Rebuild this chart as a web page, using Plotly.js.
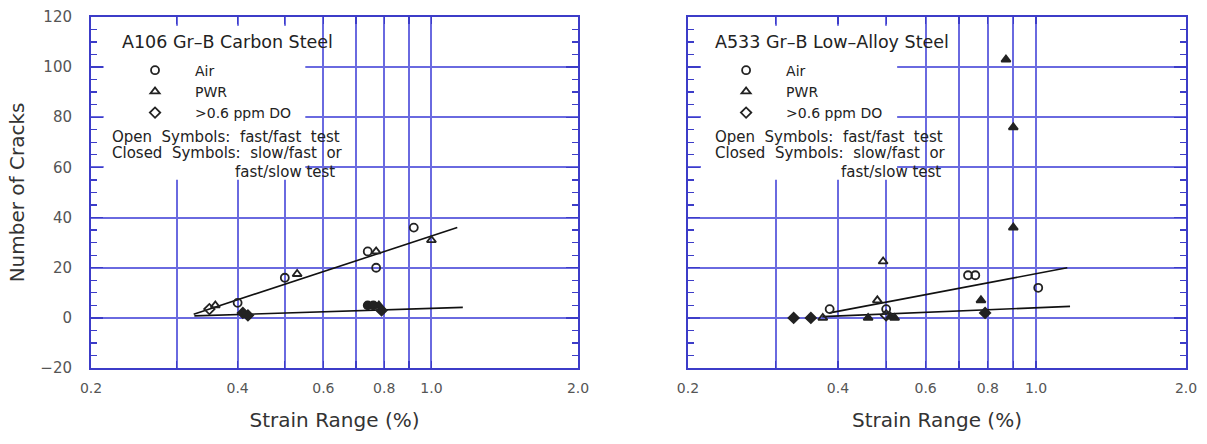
<!DOCTYPE html>
<html>
<head>
<meta charset="utf-8">
<script src="https://cdn.plot.ly/plotly-3.0.1.min.js"></script>
<style>body{margin:0;background:#fff}#chart{width:1207px;height:444px}</style>
</head>
<body>
<div id="chart"></div>
<script>
// ---------- data: A106 Gr-B Carbon Steel (left) ----------
const cs_airOpenX = [0.40, 0.50, 0.74, 0.77, 0.92];
const cs_airOpenY = [6, 16, 26.5, 20, 36];
const cs_pwrOpenX = [0.36, 0.53, 0.77, 1.0];
const cs_pwrOpenY = [5, 17.5, 26.5, 31];
const cs_doOpenX = [0.35];
const cs_doOpenY = [3.5];
const cs_airClosedX = [0.74, 0.76];
const cs_airClosedY = [5, 5];
const cs_pwrClosedX = [0.78];
const cs_pwrClosedY = [5];
const cs_doClosedX = [0.41, 0.42, 0.79];
const cs_doClosedY = [2, 1, 3];
const cs_fitOpenX = [0.325, 1.13];
const cs_fitOpenY = [1.5, 36];
const cs_fitClosedX = [0.326, 1.16];
const cs_fitClosedY = [0.8, 4.2];

// ---------- data: A533 Gr-B Low-Alloy Steel (right) ----------
const las_airOpenX = [0.385, 0.50, 0.73, 0.755, 1.01];
const las_airOpenY = [3.5, 3.5, 17, 17, 12];
const las_pwrOpenX = [0.373, 0.48, 0.493];
const las_pwrOpenY = [0, 7, 22.5];
const las_doOpenX = [0.50];
const las_doOpenY = [1];
const las_pwrClosedX = [0.46, 0.51, 0.52, 0.775, 0.87, 0.90, 0.90];
const las_pwrClosedY = [0, 0.5, 0, 7, 103, 76, 36];
const las_doClosedX = [0.326, 0.353, 0.79];
const las_doClosedY = [0, 0, 2];
const las_fitOpenX = [0.385, 1.155];
const las_fitOpenY = [2, 20];
const las_fitClosedX = [0.372, 1.17];
const las_fitClosedY = [0.5, 4.6];

// ---------- axis labels ----------
const xTickVals = [0.2, 0.3, 0.4, 0.5, 0.6, 0.7, 0.8, 0.9, 1.0, 2.0];
const xTickText = ['0.2', '', '0.4', '', '0.6', '', '0.8', '', '1.0', '2.0'];
const yTickVals = [-20, 0, 20, 40, 60, 80, 100, 120];
const seriesNames = ['Air', 'PWR', '>0.6 ppm DO'];
const panelTitles = ['A106 Gr\u2013B Carbon Steel', 'A533 Gr\u2013B Low\u2013Alloy Steel'];
const noteLines = ['Open  Symbols:  fast/fast  test', 'Closed  Symbols:  slow/fast  or', 'fast/slow test'];

const FONT = 'DejaVu Sans, Liberation Sans, Arial, sans-serif';
const BLUE_AX = '#3c3cc8';
const BLUE_GRID = '#6a6ae0';
const INK = '#222';

function mk(x, y, sym, xa, ya, name, legend, show) {
  return {
    type: 'scatter', mode: 'markers', x: x, y: y, xaxis: xa, yaxis: ya,
    name: name, legend: legend, showlegend: !!show, cliponaxis: false,
    marker: {symbol: sym, size: 8, color: INK, line: {color: INK, width: 1.8}}
  };
}
function fit(x, y, xa, ya) {
  return {type: 'scatter', mode: 'lines', x: x, y: y, xaxis: xa, yaxis: ya,
    showlegend: false, line: {color: '#111', width: 1.6}, hoverinfo: 'skip'};
}

const traces = [
  fit(cs_fitOpenX, cs_fitOpenY, 'x', 'y'),
  fit(cs_fitClosedX, cs_fitClosedY, 'x', 'y'),
  mk(cs_airOpenX, cs_airOpenY, 'circle-open', 'x', 'y', seriesNames[0], 'legend', true),
  mk(cs_pwrOpenX, cs_pwrOpenY, 'triangle-up-open', 'x', 'y', seriesNames[1], 'legend', true),
  mk(cs_doOpenX, cs_doOpenY, 'diamond-open', 'x', 'y', seriesNames[2], 'legend', true),
  mk(cs_airClosedX, cs_airClosedY, 'circle', 'x', 'y', seriesNames[0], 'legend', false),
  mk(cs_pwrClosedX, cs_pwrClosedY, 'triangle-up', 'x', 'y', seriesNames[1], 'legend', false),
  mk(cs_doClosedX, cs_doClosedY, 'diamond', 'x', 'y', seriesNames[2], 'legend', false),

  fit(las_fitOpenX, las_fitOpenY, 'x2', 'y2'),
  fit(las_fitClosedX, las_fitClosedY, 'x2', 'y2'),
  mk(las_airOpenX, las_airOpenY, 'circle-open', 'x2', 'y2', seriesNames[0], 'legend2', true),
  mk(las_pwrOpenX, las_pwrOpenY, 'triangle-up-open', 'x2', 'y2', seriesNames[1], 'legend2', true),
  mk(las_doOpenX, las_doOpenY, 'diamond-open', 'x2', 'y2', seriesNames[2], 'legend2', true),
  mk(las_pwrClosedX, las_pwrClosedY, 'triangle-up', 'x2', 'y2', seriesNames[1], 'legend2', false),
  mk(las_doClosedX, las_doClosedY, 'diamond', 'x2', 'y2', seriesNames[2], 'legend2', false)
];

function xAxis(domain, anchor) {
  return {
    type: 'log', domain: domain, anchor: anchor,
    range: [Math.log10(0.2), Math.log10(2.0)],
    tickmode: 'array', tickvals: xTickVals, ticktext: xTickText,
    ticks: 'inside', ticklen: 7, tickwidth: 1.3, tickcolor: BLUE_AX,
    showgrid: true, gridcolor: BLUE_GRID, gridwidth: 2,
    showline: true, linecolor: BLUE_AX, linewidth: 2, mirror: 'ticks',
    zeroline: false, ticklabelstandoff: 6,
    tickfont: {family: FONT, size: 14, color: '#555'},
    title: {text: 'Strain Range (%)', font: {family: FONT, size: 20, color: '#333'}, standoff: 18}
  };
}
function yAxis(domain, anchor, labels) {
  const a = {
    domain: domain, anchor: anchor, range: [-20, 120],
    tickmode: 'array', tickvals: yTickVals,
    ticks: 'inside', ticklen: 12, tickwidth: 1.3, tickcolor: BLUE_AX,
    minor: {dtick: 5, tick0: 0, ticks: 'inside', ticklen: 6, tickcolor: BLUE_AX, tickwidth: 1.3, showgrid: false},
    showgrid: true, gridcolor: BLUE_GRID, gridwidth: 2,
    showline: true, linecolor: BLUE_AX, linewidth: 2, mirror: 'ticks',
    zeroline: false, showticklabels: labels, ticklabelstandoff: 14,
    tickfont: {family: FONT, size: 15, color: '#555'}
  };
  if (labels) a.title = {text: 'Number of Cracks', font: {family: FONT, size: 20, color: '#333'}, standoff: 10};
  return a;
}

const yDom = [0.171, 0.962];
function ann(xref, yref, x, y, text, anchor, size) {
  return {xref: xref, yref: yref, x: x, y: y, text: text, showarrow: false,
    xanchor: anchor, yanchor: 'middle', font: {family: FONT, size: size, color: INK}};
}
function box(xref, yref, x0, x1, y0, y1) {
  return {type: 'rect', xref: xref, yref: yref, x0: x0, x1: x1, y0: y0, y1: y1,
    fillcolor: '#fff', line: {width: 0}, layer: 'above'};
}

const layout = {
  width: 1207, height: 444,
  margin: {l: 0, r: 0, t: 0, b: 0},
  paper_bgcolor: '#fff', plot_bgcolor: '#fff',
  showlegend: true,
  xaxis: xAxis([0.0754, 0.4789], 'y'),
  yaxis: yAxis(yDom, 'x', true),
  xaxis2: xAxis([0.570, 0.9826], 'y2'),
  yaxis2: yAxis(yDom, 'x2', false),
  legend: {x: 0.0953, y: 0.877, xanchor: 'left', yanchor: 'top', bgcolor: 'rgba(0,0,0,0)',
    font: {family: FONT, size: 14, color: INK}, tracegroupgap: 0, itemwidth: 70},
  legend2: {x: 0.585, y: 0.877, xanchor: 'left', yanchor: 'top', bgcolor: 'rgba(0,0,0,0)',
    font: {family: FONT, size: 14, color: INK}, tracegroupgap: 0, itemwidth: 70},
  shapes: [
    box('x domain', 'y domain', 0.026, 0.44, 0.536, 0.975),
    box('x2 domain', 'y2 domain', 0.026, 0.42, 0.536, 0.975)
  ],
  annotations: [
    ann('x domain', 'y domain', 0.0595, 0.929, panelTitles[0], 'left', 17.5),
    ann('x domain', 'y domain', 0.039, 0.658, noteLines[0], 'left', 15),
    ann('x domain', 'y domain', 0.039, 0.6125, noteLines[1], 'left', 15),
    ann('x domain', 'y domain', 0.505, 0.558, noteLines[2], 'right', 15),
    ann('x2 domain', 'y2 domain', 0.050, 0.929, panelTitles[1], 'left', 17.5),
    ann('x2 domain', 'y2 domain', 0.050, 0.658, noteLines[0], 'left', 15),
    ann('x2 domain', 'y2 domain', 0.050, 0.6125, noteLines[1], 'left', 15),
    ann('x2 domain', 'y2 domain', 0.512, 0.558, noteLines[2], 'right', 15)
  ]
};

Plotly.newPlot('chart', traces, layout, {displayModeBar: false, staticPlot: true});
</script>
</body>
</html>
